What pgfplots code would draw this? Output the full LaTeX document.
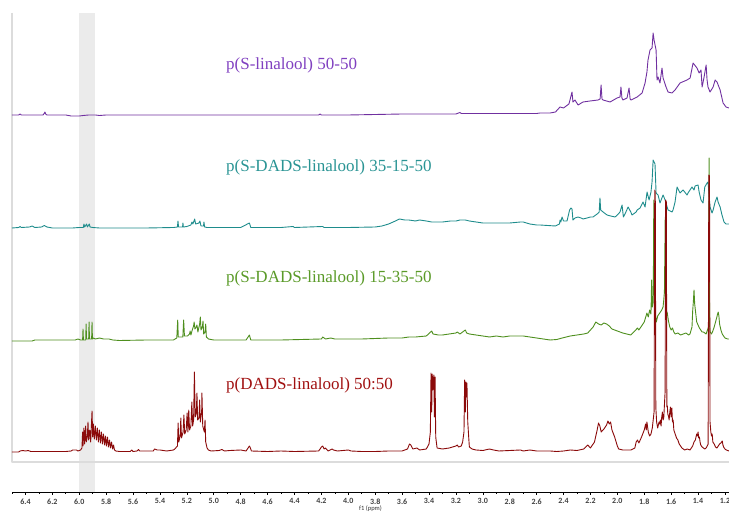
\documentclass[border=0pt]{standalone}
\usepackage{fontspec}
\setmainfont{Liberation Serif}
\newfontfamily\tickfont{Carlito}
\usepackage{pgfplots}
\pgfplotsset{compat=1.18}
\definecolor{cpurple}{HTML}{7030A0}
\definecolor{cpurplet}{HTML}{8040C0}
\definecolor{cteal}{HTML}{1E8C8C}
\definecolor{ctealt}{HTML}{2A9494}
\definecolor{cgreen}{HTML}{4E8F1E}
\definecolor{cgreent}{HTML}{5A9A28}
\definecolor{cred}{HTML}{8B0A0A}
\definecolor{credt}{HTML}{A01010}
\definecolor{framegray}{HTML}{DCDCDC}
\definecolor{bandgray}{HTML}{EBEBEB}
\begin{document}
\begin{tikzpicture}
\useasboundingbox (-12pt,-22pt) rectangle (717pt,492pt);
\begin{axis}[
  scale only axis, width=717pt, height=487pt,
  x dir=reverse, xmin=1.17, xmax=6.5, ymin=0, ymax=487,
  axis x line=bottom, axis y line=none,
  axis line style={-, black, line width=0.6pt},
  xtick={1.2,1.4,...,6.41},
  minor xtick={1.3,1.5,...,6.51},
  tick align=outside,
  major tick length=3pt, minor tick length=2pt,
  tick style={black, line width=0.6pt},
  xticklabel style={font=\tickfont\bfseries\fontsize{8}{9}\selectfont, text=black!75, inner sep=1pt, yshift=-2.5pt,
    /pgf/number format/fixed, /pgf/number format/fixed zerofill, /pgf/number format/precision=1},
  /pgf/number format/assume math mode=true,
  xlabel={f1 (ppm)},
  xlabel style={font=\tickfont\fontsize{6.5}{7}\selectfont, text=black!80, inner sep=0pt, yshift=0pt},
  clip=false,
  line join=round,
]
% shaded band
\addplot[draw=none, fill=bandgray] coordinates {(6.0,0) (5.88,0) (5.88,479) (6.0,479)} --cycle;
% frame lines
\addplot[framegray, line width=1.5pt] coordinates {(6.5,479) (6.5,30) (1.17,30)};
% purple: p(S-linalool) 50-50
\addplot[cpurple, line width=0.9pt] coordinates {
(6.50,377) (6.45,377) (6.44,378) (6.43,377) (6.27,377) (6.26,378.5) (6.255,380) (6.25,378) (6.24,377) (6.10,377) (6.08,376.5) (6.06,376) (6.00,376) (5.97,376.5) (5.93,377) (5.88,377) (5.85,376.5) (5.80,377) (5.50,377) (5.30,377) (5.00,377) (4.80,377) (4.60,377) (4.40,377) (4.22,377) (4.21,378) (4.20,377) (4.00,377) (3.80,377.5) (3.60,378) (3.40,378) (3.20,378) (3.17,379.5) (3.16,378.5) (3.00,378.5) (2.80,378.5) (2.60,378.5) (2.575,379) (2.50,379) (2.46,380)
(2.426,385) (2.40,384) (2.36,388) (2.352,392) (2.337,400) (2.330,390) (2.315,392) (2.292,387) (2.255,390) (2.203,391) (2.143,392) (2.128,393) (2.121,407) (2.114,393) (2.106,392) (2.054,390) (2.002,394) (1.980,395) (1.973,405) (1.966,394) (1.958,392) (1.928,394) (1.913,404) (1.905,393) (1.898,392) (1.853,395) (1.816,399) (1.794,409) (1.780,420) (1.772,432) (1.757,442) (1.742,444) (1.734,459) (1.727,452) (1.712,442) (1.705,412) (1.697,415) (1.683,409) (1.668,424) (1.660,414) (1.638,405) (1.623,400) (1.593,399) (1.571,402) (1.534,409) (1.482,412) (1.459,414) (1.437,429) (1.408,424) (1.392,419) (1.378,422) (1.370,405) (1.355,415) (1.340,427) (1.333,412) (1.326,405) (1.311,400) (1.288,405) (1.273,412) (1.259,410) (1.236,402) (1.214,389) (1.192,385) (1.17,384)
};
% teal: p(S-DADS-linalool) 35-15-50
\addplot[cteal, line width=0.9pt] coordinates {
(6.50,264) (6.45,264.5) (6.44,265.5) (6.43,264.5) (6.37,265) (6.35,266) (6.33,264.5) (6.28,265) (6.26,266.5) (6.24,265) (6.20,264) (6.05,264) (6.00,264.5) (5.97,264.5) (5.965,268) (5.96,265) (5.945,268) (5.94,265) (5.925,268) (5.92,265) (5.90,264.5) (5.85,264) (5.70,264) (5.50,264) (5.30,264.5)
(5.27,265) (5.266,271) (5.262,265) (5.232,265) (5.229,269) (5.226,265) (5.20,265.5) (5.17,267) (5.162,270) (5.155,268) (5.142,273) (5.135,268) (5.11,269) (5.103,271) (5.095,266) (5.076,266) (5.073,270) (5.068,265) (5.05,264.5) (4.80,264.5) (4.735,269) (4.725,264.5) (4.50,264.5) (4.41,265.5) (4.40,264.5) (4.19,265.5) (4.18,264.5) (4.00,264.5) (3.80,265) (3.75,266) (3.70,268) (3.65,271) (3.62,273) (3.58,272) (3.55,272) (3.50,271) (3.47,272) (3.42,271) (3.38,270) (3.30,270) (3.24,271) (3.20,271) (3.17,272) (3.13,272) (3.10,271) (3.00,269) (2.95,269) (2.87,269) (2.80,269) (2.72,270) (2.70,270) (2.65,268) (2.60,267) (2.575,267)
(2.46,266) (2.43,268) (2.426,272) (2.42,270) (2.411,275) (2.40,271) (2.385,271) (2.374,271) (2.355,282) (2.345,284) (2.337,283) (2.33,272) (2.315,274) (2.292,275) (2.27,274) (2.255,273) (2.225,274) (2.20,275) (2.181,275) (2.15,278) (2.135,280) (2.129,294) (2.124,282) (2.106,280) (2.077,277) (2.05,276) (2.017,275) (2.00,277) (1.98,280) (1.965,287) (1.955,275) (1.943,278) (1.92,285) (1.90,280) (1.891,277) (1.86,280) (1.853,282) (1.831,284) (1.809,290) (1.794,285) (1.779,300) (1.764,292) (1.75,300) (1.742,310) (1.734,332) (1.727,330) (1.720,328) (1.712,299) (1.697,297) (1.683,289) (1.66,297) (1.645,292) (1.623,282) (1.593,280) (1.586,282) (1.571,290) (1.556,305) (1.534,299) (1.511,302) (1.482,297) (1.470,300) (1.445,305) (1.43,302) (1.422,306) (1.40,307) (1.392,300) (1.378,292) (1.363,289) (1.350,305) (1.333,309) (1.326,310) (1.311,285) (1.296,279) (1.288,282) (1.273,290) (1.259,295) (1.251,290) (1.236,285) (1.222,277) (1.207,270) (1.192,268) (1.17,268)
};
% green: p(S-DADS-linalool) 15-35-50
\addplot[cgreen, line width=0.9pt] coordinates {
(6.50,151) (6.35,151) (6.33,152) (6.10,152) (6.03,152) (6.01,153) (5.99,152) (5.98,152)
(5.975,152) (5.972,163) (5.969,152) (5.952,152) (5.949,168) (5.946,153) (5.930,153) (5.927,170) (5.924,153) (5.908,153) (5.905,170) (5.902,153) (5.895,154) (5.88,153) (5.85,154) (5.82,153) (5.78,153) (5.75,152) (5.70,151.5) (5.50,152) (5.40,152) (5.30,152)
(5.275,154) (5.268,172) (5.264,155) (5.230,155) (5.224,172) (5.218,156) (5.195,156) (5.180,158) (5.176,161) (5.170,157) (5.160,162) (5.150,166) (5.146,170) (5.140,163) (5.130,165) (5.125,167) (5.118,160) (5.105,168) (5.100,175) (5.095,162) (5.085,165) (5.080,171) (5.075,158) (5.065,160) (5.060,168) (5.055,155) (5.04,153) (5.00,152)
(4.76,152) (4.735,157) (4.725,152) (4.50,152) (4.20,153) (4.19,155) (4.17,153) (4.13,154) (4.10,153) (4.00,153) (3.90,153) (3.70,154) (3.60,154) (3.55,155) (3.50,155) (3.42,156) (3.38,161) (3.37,158) (3.33,157) (3.30,157) (3.25,158) (3.20,159) (3.19,160) (3.17,158) (3.14,161) (3.13,162) (3.12,159) (3.10,158) (3.05,157) (3.00,156) (2.95,155) (2.90,156) (2.85,155) (2.80,156) (2.75,156) (2.70,156) (2.65,155) (2.60,154) (2.55,153) (2.50,152) (2.45,152.5) (2.41,154) (2.38,155) (2.35,156) (2.30,157) (2.25,158) (2.22,159) (2.18,165) (2.16,170) (2.14,168) (2.12,167) (2.10,169) (2.08,168) (2.06,166) (2.04,163) (2.02,162) (2.00,161) (1.98,160) (1.96,159) (1.93,158) (1.90,157) (1.87,161) (1.85,164) (1.84,162) (1.82,166) (1.80,170) (1.78,179) (1.77,175) (1.76,182) (1.75,178) (1.745,212) (1.740,185)
(1.733,190) (1.729,292) (1.725,200) (1.72,180) (1.71,170) (1.70,176) (1.69,178) (1.68,180) (1.67,182) (1.66,185) (1.655,192) (1.650,200) (1.644,275) (1.640,195) (1.635,178) (1.63,180) (1.62,171) (1.61,165) (1.60,162) (1.59,164) (1.58,160) (1.57,158) (1.55,159) (1.53,157) (1.51,158) (1.49,159) (1.47,157) (1.46,158) (1.445,165) (1.44,181) (1.435,190) (1.43,202) (1.425,188) (1.42,182) (1.41,170) (1.40,167) (1.39,164) (1.38,162) (1.37,160) (1.36,160) (1.35,159) (1.34,158) (1.33,162)
(1.322,165) (1.318,334) (1.314,166) (1.31,160) (1.30,158) (1.29,161) (1.28,165) (1.27,170) (1.26,175) (1.255,178) (1.25,180) (1.245,176) (1.24,168) (1.23,162) (1.22,158) (1.21,156) (1.20,154) (1.18,153) (1.17,153)
};
% red: p(DADS-linalool) 50:50
\addplot[cred, line width=0.9pt] coordinates {
(6.50,40) (6.45,40) (6.44,41) (6.42,41.5) (6.40,41) (6.38,41.5) (6.36,40.5) (6.10,40.5) (6.06,41) (6.05,42) (6.02,42) (6.01,41) (5.99,42)
(5.980,44) (5.975,60) (5.972,46) (5.965,64) (5.960,48) (5.952,66) (5.948,50) (5.940,55) (5.935,70) (5.930,52) (5.922,62) (5.915,50) (5.905,81) (5.900,55) (5.895,68) (5.888,53) (5.880,66) (5.873,52) (5.865,64) (5.858,50) (5.850,62) (5.843,49) (5.835,60) (5.828,48) (5.820,58) (5.812,47) (5.805,56) (5.798,46) (5.790,55) (5.783,45) (5.775,52) (5.768,44) (5.760,50) (5.752,43) (5.745,47) (5.738,42) (5.728,41) (5.70,40.5)
(5.62,40.5) (5.61,42) (5.60,40.5) (5.57,41) (5.56,42.5) (5.55,41) (5.45,41) (5.44,43) (5.42,42) (5.40,42) (5.35,41) (5.30,42)
(5.29,43) (5.27,46) (5.265,69) (5.260,50) (5.250,56) (5.245,74) (5.240,54) (5.228,60) (5.222,77) (5.216,58) (5.205,62) (5.198,79) (5.192,60) (5.186,82) (5.180,62) (5.170,66) (5.163,90) (5.157,66) (5.150,72) (5.144,120) (5.138,75) (5.130,78) (5.125,99) (5.120,72) (5.110,74) (5.105,92) (5.100,70) (5.090,80) (5.088,99) (5.082,66) (5.070,60) (5.065,72) (5.060,50) (5.050,44) (5.040,42) (5.02,41)
(4.96,41.5) (4.94,42.5) (4.92,41) (4.88,41.5) (4.80,42) (4.76,41) (4.735,46) (4.728,44) (4.72,41) (4.60,40.5) (4.50,41) (4.40,40.5) (4.22,41) (4.20,45) (4.19,46) (4.18,43) (4.17,44) (4.15,41) (4.12,43) (4.11,42) (4.08,41) (4.00,42) (3.98,41) (3.90,40.5) (3.80,40.5) (3.70,41) (3.60,41) (3.56,43) (3.545,48) (3.535,47) (3.52,43) (3.49,44) (3.47,42) (3.42,43) (3.40,48)
(3.390,60) (3.385,119) (3.380,80) (3.376,118) (3.372,102) (3.368,110) (3.364,117) (3.360,75) (3.355,115) (3.350,55) (3.34,44) (3.30,43) (3.25,44) (3.20,46) (3.19,47) (3.18,45) (3.16,46) (3.150,50)
(3.140,60) (3.135,112) (3.130,80) (3.126,110) (3.122,95) (3.118,109) (3.112,70) (3.105,55) (3.10,45) (3.08,43) (3.05,42) (3.00,41.5) (2.95,43) (2.92,42) (2.88,41) (2.80,41.5) (2.72,42) (2.70,41) (2.65,42) (2.60,41) (2.58,41)
(2.50,41) (2.45,40.5) (2.40,41) (2.35,42) (2.30,41.5) (2.25,43) (2.22,47) (2.20,44) (2.17,50) (2.15,62) (2.14,69) (2.13,66) (2.12,60) (2.10,63) (2.08,67) (2.07,71) (2.06,68) (2.05,70) (2.04,62) (2.02,55) (2.00,46) (1.99,43) (1.96,42) (1.90,42) (1.87,44) (1.86,50) (1.85,52) (1.84,49) (1.82,55) (1.80,62) (1.79,68) (1.785,62) (1.78,70) (1.77,60) (1.76,56) (1.75,58) (1.74,64)
(1.727,80) (1.722,302) (1.718,300) (1.714,85) (1.708,70) (1.70,64) (1.695,67) (1.69,70) (1.685,68) (1.68,72) (1.675,66) (1.67,75) (1.665,80) (1.66,72) (1.655,74)
(1.645,100) (1.641,292) (1.636,290) (1.632,85) (1.628,86) (1.625,78) (1.62,76) (1.615,72) (1.61,80) (1.605,85) (1.60,75) (1.595,84) (1.59,70) (1.585,72) (1.58,62) (1.57,58) (1.56,54) (1.55,52) (1.54,48) (1.53,46) (1.52,44) (1.51,43) (1.50,42) (1.48,43) (1.46,42) (1.44,46) (1.43,50) (1.42,52) (1.41,58) (1.405,56) (1.40,60) (1.395,54) (1.39,55) (1.385,50) (1.38,47) (1.37,45) (1.35,43) (1.34,44)
(1.325,48) (1.320,317) (1.315,316) (1.311,70) (1.305,60) (1.300,56) (1.295,58) (1.29,50) (1.28,48) (1.27,45) (1.26,44) (1.25,46) (1.24,48) (1.23,49) (1.22,51) (1.215,47) (1.21,45) (1.20,43) (1.19,42) (1.17,41)
};
% labels
\node[anchor=west, text=cpurplet, font=\fontsize{17}{20}\selectfont, inner sep=0pt] at (axis cs:4.909,427) {p(S-linalool) 50-50};
\node[anchor=west, text=ctealt, font=\fontsize{17}{20}\selectfont, inner sep=0pt] at (axis cs:4.909,325) {p(S-DADS-linalool) 35-15-50};
\node[anchor=west, text=cgreent, font=\fontsize{17}{20}\selectfont, inner sep=0pt] at (axis cs:4.909,214) {p(S-DADS-linalool) 15-35-50};
\node[anchor=west, text=credt, font=\fontsize{17}{20}\selectfont, inner sep=0pt] at (axis cs:4.909,107) {p(DADS-linalool) 50:50};
\end{axis}
\end{tikzpicture}
\end{document}
